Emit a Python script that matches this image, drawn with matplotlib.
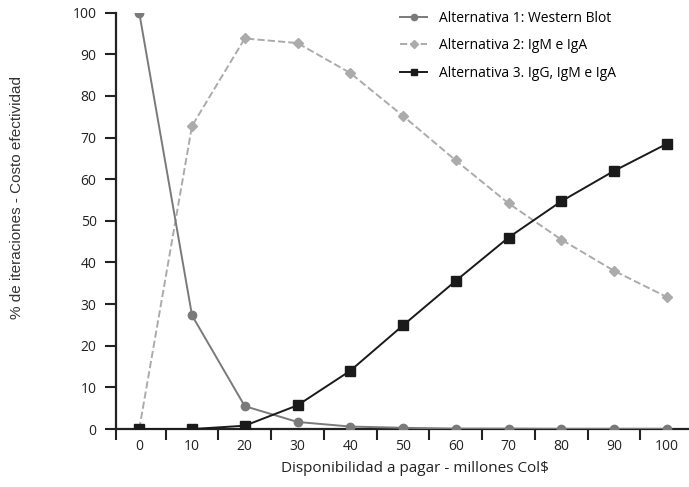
import matplotlib
matplotlib.use("Agg")
import matplotlib.pyplot as plt
import numpy as np

plt.rcParams['font.family'] = ['Open Sans', 'DejaVu Sans']

x = [0, 10, 20, 30, 40, 50, 60, 70, 80, 90, 100]
alt1 = [100, 27.3, 5.5, 1.7, 0.6, 0.3, 0.1, 0.1, 0.05, 0.05, 0.05]
alt2 = [0, 72.8, 93.8, 92.7, 85.5, 75.2, 64.5, 54.2, 45.5, 38.0, 31.7]
alt3 = [0, 0, 0.8, 5.7, 14.0, 24.9, 35.6, 46.0, 54.7, 62.0, 68.5]
labels = ['Alternativa 1: Western Blot', 'Alternativa 2: IgM e IgA',
          'Alternativa 3. IgG, IgM e IgA']

fig = plt.figure(figsize=(6.89, 4.87), dpi=100)
ax = fig.add_axes([0.1684, 0.119, 0.8316, 0.855])

ax.plot(x, alt1, '-', color='#7a7a7a', lw=1.4, marker='o', ms=6,
        label=labels[0], zorder=3)
ax.plot(x, alt2, '--', color='#ababab', lw=1.4, marker='D', ms=5.5,
        label=labels[1], zorder=2)
ax.plot(x, alt3, '-', color='#1a1a1a', lw=1.4, marker='s', ms=6.5,
        label=labels[2], zorder=4)

ax.set_xlim(-4.4, 104.2)
ax.set_ylim(0, 100)
ax.set_yticks(np.arange(0, 101, 10))
ax.set_xticks(x)
# minor ticks between categories, plus one under the y spine
ax.set_xticks([-4.4] + list(np.arange(5, 100, 10)), minor=True)
ax.tick_params(axis='x', which='major', length=0, pad=7, labelsize=10, colors='#222222')
ax.tick_params(axis='x', which='minor', length=8, width=1.5, direction='out', color='#222222')
ax.tick_params(axis='y', length=8, width=1.5, pad=6, labelsize=10, colors='#222222')

for side in ['top', 'right']:
    ax.spines[side].set_visible(False)
for side in ['left', 'bottom']:
    ax.spines[side].set_linewidth(1.6)
    ax.spines[side].set_color('#222222')
for sp in ax.spines.values():
    sp.set_clip_on(False)

ax.set_xlabel('Disponibilidad a pagar - millones Col$', fontsize=11,
              color='#222222', labelpad=5)
ax.xaxis.label.set_x(0.521)
ax.set_ylabel('% de iteraciones - Costo efectividad', fontsize=11,
              color='#333333', family='Liberation Sans')
ax.yaxis.set_label_coords(-0.16, 0.557)

ax.legend(loc='upper left', bbox_to_anchor=(0.58, 0.978),
          bbox_transform=fig.transFigure, frameon=False, fontsize=10,
          borderpad=0, borderaxespad=0, handlelength=2.0,
          handletextpad=0.8, labelspacing=0.9, markerscale=0.75)

fig.savefig('out.png', dpi=100)
